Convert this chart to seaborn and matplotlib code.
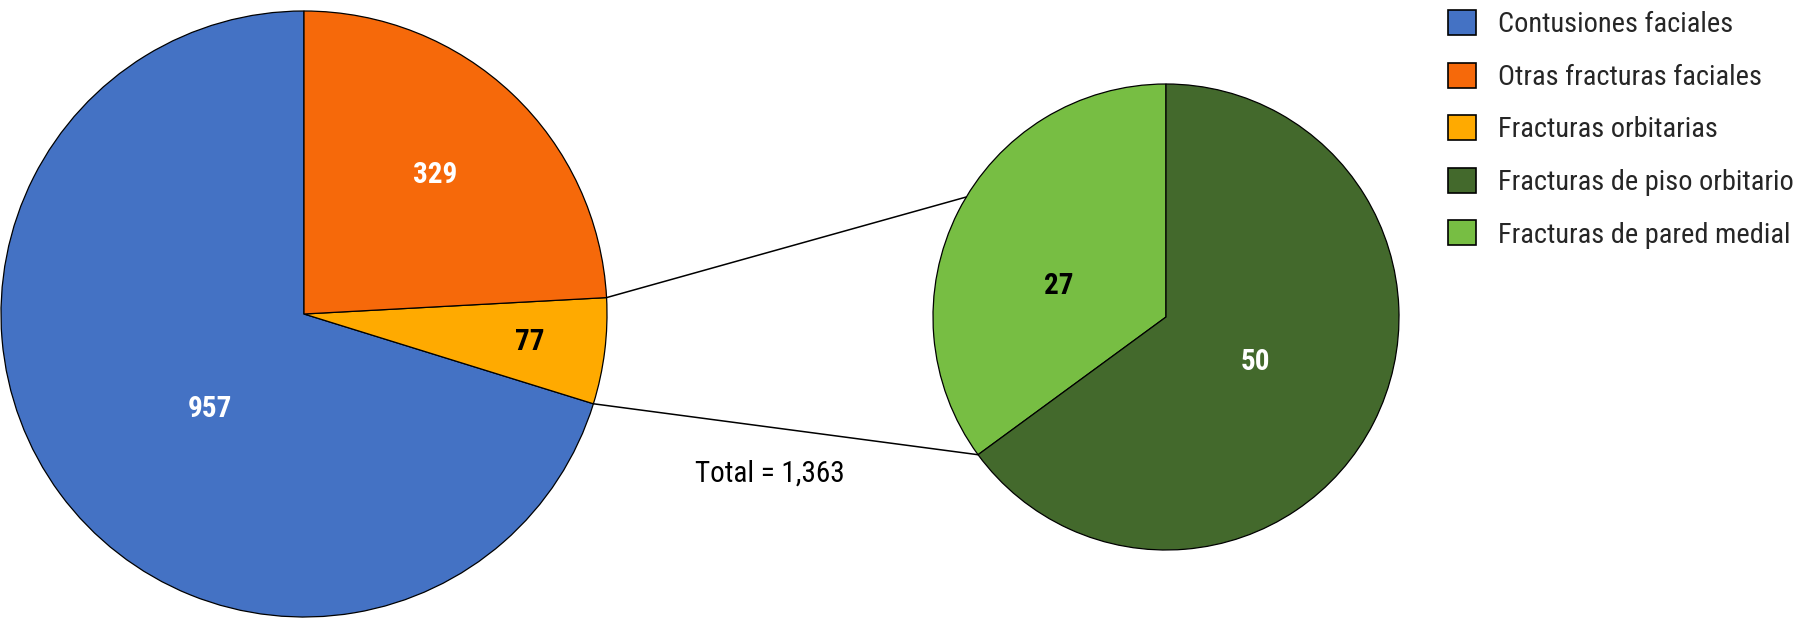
import matplotlib.pyplot as plt
import numpy as np
import seaborn as sns
from matplotlib import font_manager
from matplotlib.patches import Patch

sns.set_theme(style="white")
disponibles = {f.name for f in font_manager.fontManager.ttflist}
fuente = next((n for n in ["Roboto Condensed", "Archivo Narrow", "PT Sans Narrow",
                           "Open Sans Condensed"] if n in disponibles), "Liberation Sans")
plt.rcParams["font.family"] = [fuente, "Liberation Sans", "DejaVu Sans"]

# --- Datos ---
categorias = ["Contusiones faciales", "Otras fracturas faciales", "Fracturas orbitarias"]
valores = [957, 329, 77]
sub_categorias = ["Fracturas de piso orbitario", "Fracturas de pared medial"]
sub_valores = [50, 27]

colores = ["#4472C4", "#F6690A", "#FFAA00"]
sub_colores = ["#43692C", "#77BE43"]
color_texto = ["white", "white", "black"]
sub_color_texto = ["white", "black"]

W, H = 1800, 619
fig = plt.figure(figsize=(W / 100, H / 100), dpi=100)
ax = fig.add_axes([0, 0, 1, 1])
ax.set_aspect("equal")

borde = dict(edgecolor="black", linewidth=0.9)

# pastel principal (antihorario desde arriba: contusiones, orbitarias, otras)
orden = [0, 2, 1]
c1, r1 = (304, 305), 303
w1, _ = ax.pie([valores[i] for i in orden], colors=[colores[i] for i in orden],
               startangle=90, counterclock=True, center=c1, radius=r1,
               wedgeprops=borde, frame=True)
dist1 = {0: 0.44, 1: 0.63, 2: 0.75}
giro1 = {0: 9, 1: 0, 2: 0}
for w, i in zip(w1, orden):
    ang = np.deg2rad((w.theta1 + w.theta2) / 2 + giro1[i])
    d = dist1[i] * r1
    ax.text(c1[0] + d * np.cos(ang), c1[1] + d * np.sin(ang), str(valores[i]),
            ha="center", va="center", fontsize=21, fontweight="bold",
            color=color_texto[i])

# pastel secundario (desglose de fracturas orbitarias)
orden2 = [1, 0]
c2, r2 = (1166, 302), 233
w2, _ = ax.pie([sub_valores[i] for i in orden2], colors=[sub_colores[i] for i in orden2],
               startangle=90, counterclock=True, center=c2, radius=r2,
               wedgeprops=borde, frame=True)
dist2 = {0: 0.43, 1: 0.48}
giro2 = {0: 0, 1: 11}
for w, i in zip(w2, orden2):
    ang = np.deg2rad((w.theta1 + w.theta2) / 2 + giro2[i])
    d = dist2[i] * r2
    ax.text(c2[0] + d * np.cos(ang), c2[1] + d * np.sin(ang), str(sub_valores[i]),
            ha="center", va="center", fontsize=21, fontweight="bold",
            color=sub_color_texto[i])

ax.set_xlim(0, W)
ax.set_ylim(0, H)
ax.axis("off")


# lineas de conexion
def punto(c, r, grados):
    a = np.deg2rad(grados)
    return c[0] + r * np.cos(a), c[1] + r * np.sin(a)


w_orb = w1[1]
p_sup = punto(c1, r1, w_orb.theta2)
p_inf = punto(c1, r1, w_orb.theta1)
q_sup = punto(c2, r2, 149)
q_inf = punto(c2, r2, w2[0].theta2)
ax.plot([p_sup[0], q_sup[0]], [p_sup[1], q_sup[1]], color="black", lw=1.1)
ax.plot([p_inf[0], q_inf[0]], [p_inf[1], q_inf[1]], color="black", lw=1.1)

ax.text(770, H - 474, f"Total = {sum(valores):,}", ha="center", va="center",
        fontsize=21, color="black")

# leyenda
handles = [Patch(facecolor=c, edgecolor="black", linewidth=1.2)
           for c in colores + sub_colores]
fig.legend(handles, categorias + sub_categorias, loc="upper left",
           bbox_to_anchor=(1448 / W, 1 - 10 / H), frameon=False, fontsize=20.4,
           handlelength=0.98, handleheight=0.98, handletextpad=0.78,
           labelspacing=0.86, borderpad=0, borderaxespad=0)

fig.savefig("out.png", dpi=100)
